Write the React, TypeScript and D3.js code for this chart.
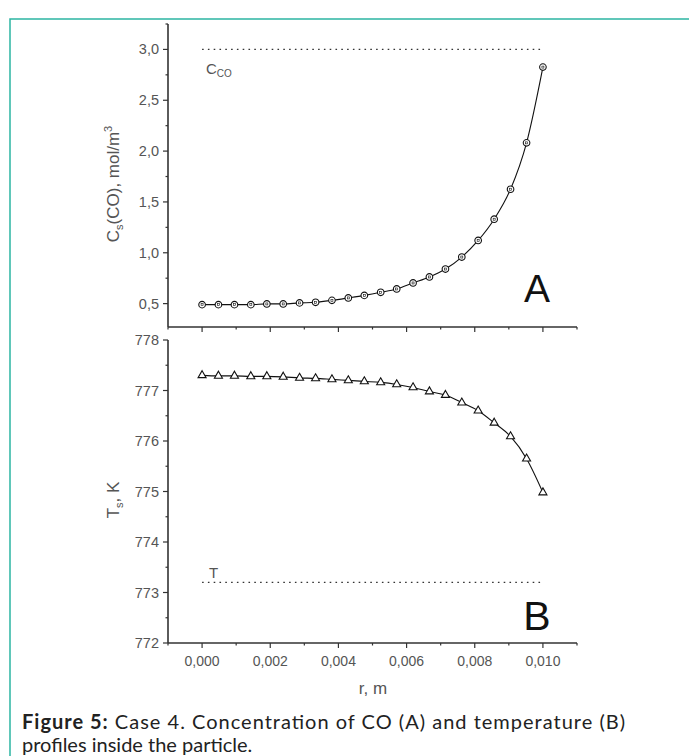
import React from 'react';
import * as d3 from 'd3';

// radial position inside the particle, m
const radius = [
  0, 0.00048, 0.00095, 0.00143, 0.0019, 0.00238, 0.00286, 0.00333, 0.00381, 0.00429, 0.00476,
  0.00524, 0.00571, 0.00619, 0.00667, 0.00714, 0.00762, 0.0081, 0.00857, 0.00905, 0.00952, 0.01,
];
// CO concentration at the surface, mol/m3 (panel A)
const concCO = [
  0.49, 0.49, 0.49, 0.49, 0.497, 0.497, 0.507, 0.513, 0.532, 0.556, 0.581,
  0.611, 0.644, 0.703, 0.762, 0.84, 0.958, 1.121, 1.33, 1.625, 2.081, 2.826,
];
// temperature, K (panel B)
const tempS = [
  777.3, 777.29, 777.29, 777.28, 777.28, 777.27, 777.25, 777.24, 777.22, 777.2, 777.18,
  777.16, 777.12, 777.06, 776.98, 776.91, 776.76, 776.6, 776.36, 776.09, 775.65, 774.98,
];

const bulkCO = 3.0;
const bulkT = 773.2;

const xTicks = [0, 0.002, 0.004, 0.006, 0.008, 0.01];
const xMinor = [-0.001, 0.001, 0.003, 0.005, 0.007, 0.009, 0.011];
const concTicks = [0.5, 1.0, 1.5, 2.0, 2.5, 3.0];
const concMinor = [0.75, 1.25, 1.75, 2.25, 2.75, 3.25];
const tempTicks = [772, 773, 774, 775, 776, 777, 778];
const tempMinor = [772.5, 773.5, 774.5, 775.5, 776.5, 777.5];

const W = 689;
const H = 756;
const axisColor = '#333';
const labelColor = '#555';
const tickFont = 'Liberation Sans, Arial, sans-serif';

const comma = (f: string) => (v: number) => d3.format(f)(v).replace('.', ',');

export default function App() {
  const x = d3.scaleLinear().domain([-0.001, 0.011]).range([168, 577]);
  const yA = d3.scaleLinear().domain([0.27, 3.25]).range([327, 24]);
  const yB = d3.scaleLinear().domain([772, 778]).range([643, 340]);

  const lineA = d3.line<number>()
    .x((_, i) => x(radius[i]))
    .y(d => yA(d))
    .curve(d3.curveMonotoneX);
  const lineB = d3.line<number>()
    .x((_, i) => x(radius[i]))
    .y(d => yB(d))
    .curve(d3.curveMonotoneX);
  const tri = d3.symbol().type(d3.symbolTriangle).size(28)();

  const xAxis = (yPos: number, labels: boolean) => (
    <g>
      <line x1={x.range()[0]} x2={x.range()[1]} y1={yPos} y2={yPos} stroke={axisColor} strokeWidth={1.6} />
      {xTicks.map(t => (
        <g key={'M' + t}>
          <line x1={x(t)} x2={x(t)} y1={yPos} y2={yPos + 5} stroke={axisColor} strokeWidth={1.2} />
          {labels && (
            <text x={x(t)} y={yPos + 23} textAnchor="middle" fontSize={14} fill={labelColor} fontFamily={tickFont}>
              {comma('.3f')(t)}
            </text>
          )}
        </g>
      ))}
      {xMinor.map(t => (
        <line key={'m' + t} x1={x(t)} x2={x(t)} y1={yPos} y2={yPos + 2.5} stroke={axisColor} strokeWidth={1.2} />
      ))}
    </g>
  );

  const yAxis = (
    y: d3.ScaleLinear<number, number>,
    major: number[],
    minor: number[],
    fmt: (v: number) => string,
  ) => {
    const x0 = x.range()[0];
    return (
      <g>
        <line x1={x0} x2={x0} y1={y.range()[0]} y2={y.range()[1]} stroke={axisColor} strokeWidth={1.6} />
        {major.map(t => (
          <g key={'M' + t}>
            <line x1={x0 - 5} x2={x0} y1={y(t)} y2={y(t)} stroke={axisColor} strokeWidth={1.2} />
            <text x={x0 - 9} y={y(t)} dy="0.35em" textAnchor="end" fontSize={14.5} fill={labelColor} fontFamily={tickFont}>
              {fmt(t)}
            </text>
          </g>
        ))}
        {minor.map(t => (
          <line key={'m' + t} x1={x0 - 2.5} x2={x0} y1={y(t)} y2={y(t)} stroke={axisColor} strokeWidth={1.2} />
        ))}
      </g>
    );
  };

  return (
    <svg width={W} height={H} style={{ position: 'absolute', left: 0, top: 0, background: '#fff' }}>
      {/* teal frame */}
      <rect x={10} y={19} width={W + 20} height={H + 20} fill="none" stroke="#2db5a3" strokeWidth={1.5} />

      {/* panel A */}
      {yAxis(yA, concTicks, concMinor, comma('.1f'))}
      {xAxis(yA.range()[0], false)}
      <line x1={x(0)} x2={x(0.01)} y1={yA(bulkCO)} y2={yA(bulkCO)} stroke="#333" strokeWidth={1.3} strokeDasharray="1.6,4.2" />
      <text x={206} y={74} fontSize={15} fill={labelColor} fontFamily={tickFont}>
        C<tspan fontSize={10} dy={3}>CO</tspan>
      </text>
      <path d={lineA(concCO) ?? ''} fill="none" stroke="#111" strokeWidth={1.1} />
      {concCO.map((v, i) => (
        <g key={i} transform={`translate(${x(radius[i])},${yA(v)})`}>
          <circle r={3.3} fill="#fff" stroke="#111" strokeWidth={1.1} />
          <rect x={-1} y={-1} width={2} height={2} fill="none" stroke="#111" strokeWidth={0.6} />
        </g>
      ))}
      <text x={537} y={302} textAnchor="middle" fontSize={39} fill="#111" fontFamily={tickFont}>A</text>
      <text
        transform={`translate(119,184) rotate(-90)`}
        textAnchor="middle" fontSize={17} fill={labelColor} fontFamily={tickFont}
      >
        C<tspan fontSize={11} dy={4}>s</tspan><tspan dy={-4}>(CO), mol/m</tspan><tspan fontSize={11} dy={-7}>3</tspan>
      </text>

      {/* panel B */}
      {yAxis(yB, tempTicks, tempMinor, d3.format('d'))}
      {xAxis(yB.range()[0], true)}
      <line x1={x(0)} x2={x(0.01)} y1={yB(bulkT)} y2={yB(bulkT)} stroke="#333" strokeWidth={1.3} strokeDasharray="1.6,4.2" />
      <text x={209} y={578} fontSize={15} fill={labelColor} fontFamily={tickFont}>T</text>
      <path d={lineB(tempS) ?? ''} fill="none" stroke="#111" strokeWidth={1.1} />
      {tempS.map((v, i) => (
        <path key={i} d={tri ?? ''} transform={`translate(${x(radius[i])},${yB(v)})`} fill="#fff" stroke="#111" strokeWidth={1.1} />
      ))}
      <text x={537} y={630} textAnchor="middle" fontSize={41} fill="#111" fontFamily={tickFont}>B</text>
      <text
        transform={`translate(119,500) rotate(-90)`}
        textAnchor="middle" fontSize={17} fill={labelColor} fontFamily={tickFont}
      >
        T<tspan fontSize={11} dy={4}>s</tspan><tspan dy={-4}>, K</tspan>
      </text>
      <text x={373} y={694} textAnchor="middle" fontSize={17} fill={labelColor} fontFamily={tickFont}>r, m</text>

      {/* caption */}
      <text x={22} y={729} fontSize={20} fill="#222" fontFamily="Lato, 'Open Sans', sans-serif" textLength={603} lengthAdjust="spacing">
        <tspan fontWeight="bold">Figure 5:</tspan> Case 4. Concentration of CO (A) and temperature (B)
      </text>
      <text x={22} y={752} fontSize={20} fill="#222" fontFamily="Lato, 'Open Sans', sans-serif">
        profiles inside the particle.
      </text>
    </svg>
  );
}
